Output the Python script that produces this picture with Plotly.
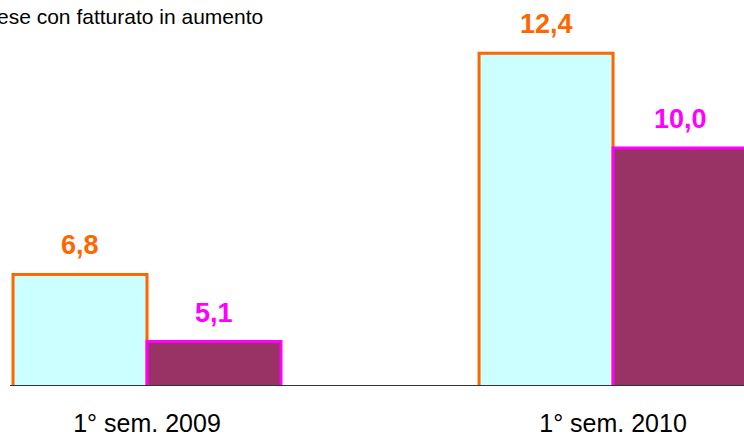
import plotly.graph_objects as go

categories = ["1° sem. 2009", "1° sem. 2010"]
series_a = [6.8, 12.4]
series_b = [5.1, 10.0]
title_text = "Imprese con fatturato in aumento"

bargap = 0.425
bar_w = (1 - bargap) / 2

fig = go.Figure()
fig.add_trace(go.Bar(x=categories, y=series_a, marker=dict(color="#CCFFFF", line=dict(color="#FF6600", width=3)), showlegend=False))
fig.add_trace(go.Bar(x=categories, y=series_b, marker=dict(color="#993366", line=dict(color="#FF00FF", width=3)), showlegend=False))

annotations = []
for i, v in enumerate(series_a):
    annotations.append(dict(x=i - bar_w / 2, y=v, xref="x", yref="y", text=f"<b>{v:.1f}</b>".replace(".", ","),
                            showarrow=False, yanchor="bottom", yshift=12,
                            font=dict(family="Liberation Sans, Arial", size=27, color="#FF6600")))
for i, v in enumerate(series_b):
    annotations.append(dict(x=i + bar_w / 2, y=v, xref="x", yref="y", text=f"<b>{v:.1f}</b>".replace(".", ","),
                            showarrow=False, yanchor="bottom", yshift=12,
                            font=dict(family="Liberation Sans, Arial", size=27, color="#FF00FF")))
annotations.append(dict(x=0.347, y=0.956, xref="paper", yref="paper", text=title_text, showarrow=False,
                        xanchor="right", yanchor="middle",
                        font=dict(family="Liberation Sans, Arial", size=21, color="#000000")))

fig.update_layout(
    width=744, height=438,
    margin=dict(l=10, r=0, t=0, b=53, autoexpand=False),
    paper_bgcolor="white", plot_bgcolor="white",
    barmode="group", bargap=bargap, bargroupgap=0,
    annotations=annotations,
    font=dict(family="Liberation Sans, Arial", color="#000000"),
    xaxis=dict(type="category", range=[-0.294, 1.281], showline=True, linecolor="#333333", linewidth=1,
               showgrid=False, ticks="", ticklabelstandoff=16, automargin=False,
               tickfont=dict(family="Liberation Sans, Arial", size=25, color="#000000")),
    yaxis=dict(range=[4, 13.75], showgrid=False, zeroline=False, showticklabels=False, showline=False, ticks="",
               automargin=False),
)

fig.write_html("out.html", config={"displayModeBar": False},
               post_script="document.body.style.margin='0';document.body.style.overflow='hidden';")
